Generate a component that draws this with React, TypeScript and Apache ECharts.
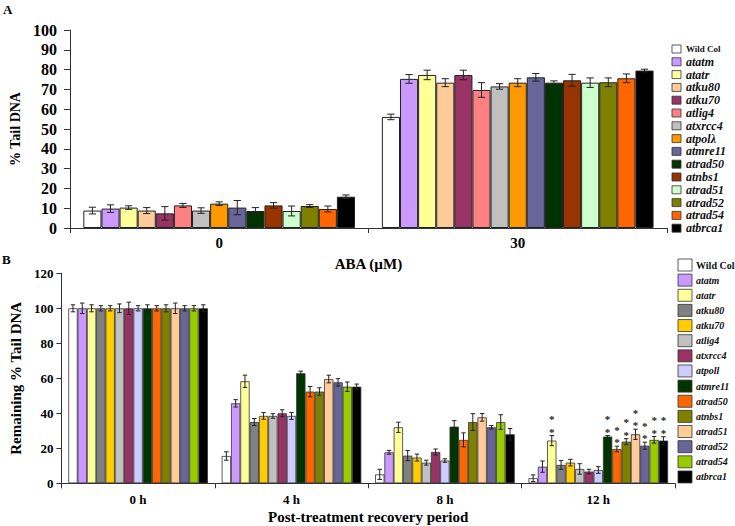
import React, { useEffect, useRef } from "react";
import * as echarts from "echarts";

// Panel A: ABA dose (0 and 30 µM)
const abaCategories = ["0", "30"];
const strainsA = ["Wild Col", "atatm", "atatr", "atku80", "atku70", "atlig4", "atxrcc4", "atpolλ", "atmre11", "atrad50", "atnbs1", "atrad51", "atrad52", "atrad54", "atbrca1"];
const colorsA = ["#FFFFFF", "#CC99FF", "#FFFF99", "#FFCC99", "#993366", "#FF8080", "#C0C0C0", "#FF9900", "#666699", "#003300", "#993300", "#CCFFCC", "#808000", "#FF6600", "#000000"];
const aba0 = [8.8, 9.8, 10.3, 8.8, 7.4, 11.4, 8.8, 12.3, 10.3, 8.6, 11.4, 8.6, 11.1, 9.6, 15.8];
const aba0Err = [1.7, 1.9, 0.9, 1.5, 3.4, 1.0, 1.4, 0.9, 3.6, 1.7, 1.4, 2.5, 0.7, 1.5, 0.9];
const aba30 = [56.1, 75.3, 77.3, 73.4, 77.3, 69.7, 71.5, 73.4, 76.1, 73.4, 74.6, 73.4, 73.6, 75.6, 79.5];
const aba30Err = [1.4, 2.2, 2.4, 2.0, 2.4, 3.7, 1.4, 2.0, 1.9, 0.9, 3.0, 2.4, 2.2, 2.2, 0.7];

// Panel B: recovery period
const recoveryCategories = ["0 h", "4 h", "8 h", "12 h"];
const strainsB = ["Wild Col", "atatm", "atatr", "atku80", "atku70", "atlig4", "atxrcc4", "atpoll", "atmre11", "atrad50", "atnbs1", "atrad51", "atrad52", "atrad54", "atbrca1"];
const colorsB = ["#FFFFFF", "#CC99FF", "#FFFF99", "#808080", "#FFCC00", "#C0C0C0", "#993366", "#CCCCFF", "#003300", "#FF6600", "#808000", "#FFCC99", "#666699", "#99CC00", "#000000"];
const h0 = [100, 100, 100, 100, 100, 100, 100, 100, 100, 100, 100, 100, 100, 100, 100];
const h0Err = [2, 3, 2, 1.5, 1.5, 2.5, 3.5, 1.5, 2, 1.5, 2, 3, 1.5, 1.5, 2];
const h4 = [15.6, 45.7, 58.3, 35, 38.5, 38.5, 40, 38.5, 62.9, 52.4, 52.4, 59.6, 57.7, 55.2, 55.2];
const h4Err = [2.4, 2.1, 3.5, 2, 1.9, 1.3, 2, 2, 1.2, 2.9, 2.2, 2.2, 2.1, 2.7, 1.5];
const h8 = [5.1, 17.7, 32, 15.8, 14.7, 11.8, 17.9, 13, 32.4, 24.8, 35, 37.7, 32, 35, 28];
const h8Err = [2.9, 1.1, 2.9, 2.9, 2, 1.4, 1.7, 1, 3.4, 4, 4.8, 2.2, 1, 4.2, 3.3];
const h12 = [2.9, 9.5, 24.4, 10.5, 11.8, 8.2, 6.7, 7.6, 26.7, 19.6, 23.8, 28, 21.5, 24.8, 24.4];
const h12Err = [1.9, 3.2, 2.9, 2.5, 1.9, 3, 1.3, 1.9, 0.6, 1.6, 1.7, 2.9, 2, 1.9, 2.2];
const stars12h = [0, 0, 2, 0, 0, 0, 0, 0, 2, 2, 2, 2, 2, 2, 2];

const FONT = "Liberation Serif";
const CAT_GAP = 0.09;

function makeErrRender(capRatio: number) {
  return (params: any, api: any) => {
    const cat = api.value(0);
    const s = api.value(1);
    const v = api.value(2);
    const e = api.value(3);
    const st = api.value(4) || 0;
    const band = api.size([1, 0])[0];
    const gw = band * (1 - CAT_GAP);
    const bw = gw / 15;
    const base = api.coord([cat, 0]);
    const x = base[0] - gw / 2 + (s + 0.5) * bw;
    const yTop = api.coord([cat, v + e])[1];
    const yBot = api.coord([cat, v - e])[1];
    const hc = bw * capRatio;
    const st1 = { stroke: "#222", lineWidth: 1 };
    const children: any[] = [
      { type: "line", shape: { x1: x, y1: yTop, x2: x, y2: yBot }, style: st1 },
      { type: "line", shape: { x1: x - hc, y1: yTop, x2: x + hc, y2: yTop }, style: st1 },
      { type: "line", shape: { x1: x - hc, y1: yBot, x2: x + hc, y2: yBot }, style: st1 },
    ];
    for (let k = 0; k < st; k++) {
      children.push({
        type: "text",
        style: {
          text: "*",
          x: x,
          y: yTop - 4 - k * 12.5,
          align: "center",
          verticalAlign: "middle",
          font: `bold 11px '${FONT}'`,
          fill: "#222",
        },
      });
    }
    return { type: "group", children };
  };
}

export default function App() {
  const ref = useRef<HTMLDivElement>(null);
  useEffect(() => {
    if (!ref.current) return;
    const chart = echarts.init(ref.current, undefined, { renderer: "svg" });

    const seriesA = strainsA.map((n, i) => ({
      type: "bar",
      name: n,
      xAxisIndex: 0,
      yAxisIndex: 0,
      barGap: "0%",
      barCategoryGap: "9%",
      data: [aba0[i], aba30[i]],
      itemStyle: { color: colorsA[i], borderColor: "#222", borderWidth: 1 },
      z: 2,
    }));
    const seriesB = strainsB.map((n, i) => ({
      type: "bar",
      name: n,
      xAxisIndex: 1,
      yAxisIndex: 1,
      barGap: "0%",
      barCategoryGap: "9%",
      data: [h0[i], h4[i], h8[i], h12[i]],
      itemStyle: { color: colorsB[i], borderColor: "#333", borderWidth: 0.8 },
      z: 2,
    }));

    const errA: any[] = [];
    strainsA.forEach((_, i) => {
      errA.push([0, i, aba0[i], aba0Err[i], 0]);
      errA.push([1, i, aba30[i], aba30Err[i], 0]);
    });
    const errB: any[] = [];
    strainsB.forEach((_, i) => {
      errB.push([0, i, h0[i], h0Err[i], 0]);
      errB.push([1, i, h4[i], h4Err[i], 0]);
      errB.push([2, i, h8[i], h8Err[i], 0]);
      errB.push([3, i, h12[i], h12Err[i], stars12h[i]]);
    });

    const legendA: any[] = [];
    strainsA.forEach((n, i) => {
      const cy = 49 + i * 12.8;
      legendA.push({
        type: "rect",
        shape: { x: 672, y: cy - 4, width: 9, height: 8 },
        style: { fill: colorsA[i], stroke: "#333", lineWidth: 0.8 },
      });
      legendA.push({
        type: "text",
        style: {
          text: n,
          x: 686,
          y: cy,
          verticalAlign: "middle",
          font: i === 0 ? `bold 9px '${FONT}'` : `italic bold 12px '${FONT}'`,
          fill: "#111",
        },
      });
    });
    const legendB: any[] = [];
    strainsB.forEach((n, i) => {
      const cy = 265 + i * 15.14;
      legendB.push({
        type: "rect",
        shape: { x: 678, y: cy - 6, width: 14, height: 12 },
        style: { fill: colorsB[i], stroke: "#333", lineWidth: 0.8 },
      });
      legendB.push({
        type: "text",
        style: {
          text: n,
          x: 696,
          y: cy,
          verticalAlign: "middle",
          font: i === 0 ? `bold 10px '${FONT}'` : `italic bold 10px '${FONT}'`,
          fill: "#111",
        },
      });
    });

    const axisLine = { show: true, lineStyle: { color: "#333", width: 1 } };

    chart.setOption({
      animation: false,
      backgroundColor: "#FFFFFF",
      textStyle: { fontFamily: FONT },
      grid: [
        { left: 54, top: 30, width: 613, height: 198 },
        { left: 53, top: 273.3, width: 622, height: 210 },
      ],
      xAxis: [
        {
          type: "category",
          gridIndex: 0,
          data: abaCategories,
          axisLine,
          axisTick: { show: true, length: 5, lineStyle: { color: "#333" } },
          axisLabel: { margin: 7, color: "#000", fontFamily: FONT, fontWeight: "bold", fontSize: 15 },
          name: "ABA (µM)",
          nameLocation: "middle",
          nameGap: 28,
          nameTextStyle: { color: "#000", fontFamily: FONT, fontWeight: "bold", fontSize: 15 },
        },
        {
          type: "category",
          gridIndex: 1,
          data: recoveryCategories,
          axisLine,
          axisTick: { show: true, length: 5, lineStyle: { color: "#333" } },
          axisLabel: { margin: 10, color: "#000", fontFamily: FONT, fontWeight: "bold", fontSize: 13 },
          name: "Post-treatment recovery period",
          nameLocation: "middle",
          nameGap: 26,
          nameTextStyle: { color: "#000", fontFamily: FONT, fontWeight: "bold", fontSize: 15 },
        },
      ],
      yAxis: [
        {
          type: "value",
          gridIndex: 0,
          min: 0,
          max: 100,
          interval: 10,
          splitLine: { show: false },
          axisLine,
          axisTick: { show: true, length: 6, lineStyle: { color: "#333" } },
          axisLabel: { margin: 13, color: "#000", fontFamily: FONT, fontWeight: "bold", fontSize: 16 },
          name: "% Tail DNA",
          nameLocation: "middle",
          nameGap: 35,
          nameTextStyle: { color: "#000", fontFamily: FONT, fontWeight: "bold", fontSize: 14 },
        },
        {
          type: "value",
          gridIndex: 1,
          min: 0,
          max: 120,
          interval: 20,
          splitLine: { show: false },
          axisLine,
          axisTick: { show: true, length: 5, lineStyle: { color: "#333" } },
          axisLabel: { margin: 8, color: "#000", fontFamily: FONT, fontWeight: "bold", fontSize: 13 },
          name: "Remaining % Tail DNA",
          nameLocation: "middle",
          nameGap: 32,
          nameTextStyle: { color: "#000", fontFamily: FONT, fontWeight: "bold", fontSize: 15 },
        },
      ],
      series: [
        ...seriesA,
        ...seriesB,
        {
          type: "custom",
          xAxisIndex: 0,
          yAxisIndex: 0,
          renderItem: makeErrRender(0.2),
          encode: { x: 0, y: 2 },
          data: errA,
          z: 5,
        },
        {
          type: "custom",
          xAxisIndex: 1,
          yAxisIndex: 1,
          renderItem: makeErrRender(0.24),
          encode: { x: 0, y: 2 },
          data: errB,
          z: 5,
        },
      ],
      graphic: [
        { type: "text", style: { text: "A", x: 3, y: 3, font: `bold 13px '${FONT}'`, fill: "#000" } },
        { type: "text", style: { text: "B", x: 2, y: 253, font: `bold 13px '${FONT}'`, fill: "#000" } },
        ...legendA,
        ...legendB,
      ],
    });
    return () => chart.dispose();
  }, []);
  return <div ref={ref} style={{ position: "absolute", left: 0, top: 0, width: 735, height: 526 }} />;
}
